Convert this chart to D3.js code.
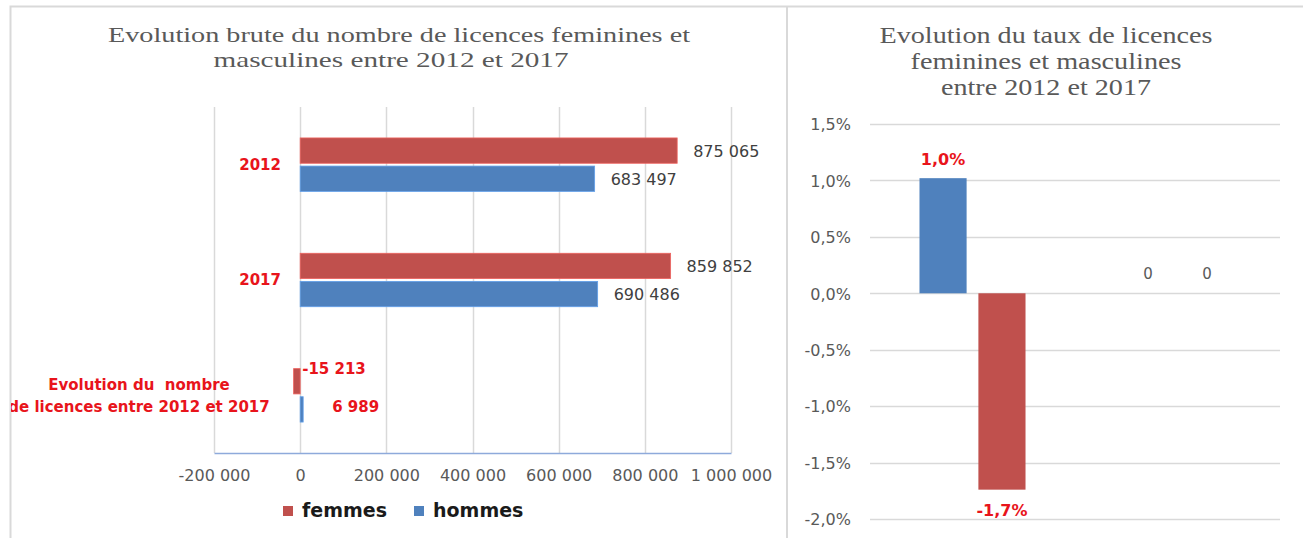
<!DOCTYPE html>
<html>
<head>
<meta charset="utf-8">
<script src="https://cdn.jsdelivr.net/npm/d3@7"></script>
<style>
  body { margin: 0; background: #fff; }
  svg { display: block; }
  text { font-family: "DejaVu Sans", sans-serif; }
  .title { font-family: "Liberation Serif", serif; fill: #595959; }
</style>
</head>
<body>
<script>
var categories = ["2012", "2017", "Evolution du  nombre|de licences entre 2012 et 2017"];
var series = ["femmes", "hommes"];
var femmes = [875065, 859852, -15213];
var hommes = [683497, 690486, 6989];
var xTicks = [-200000, 0, 200000, 400000, 600000, 800000, 1000000];

var rateCategories = ["evolution", "vide"];
var rateSeries = ["hommes", "femmes"];
var rateHommes = [0.0102, 0];
var rateFemmes = [-0.0174, 0];
var rateTicks = [0.015, 0.01, 0.005, 0, -0.005, -0.01, -0.015, -0.02];

var colors = { femmes: "#c0504d", hommes: "#4f81bd" };
var red = "#e8141b";

var fr = d3.formatLocale({ decimal: ",", thousands: " ", grouping: [3], currency: ["", " €"], minus: "-" });
var fmtNum = fr.format(",d");
var fmtPct = fr.format(".1%");

var svg = d3.select("body").append("svg")
  .attr("width", 1303)
  .attr("height", 538);

// panel frames
svg.append("path")
  .attr("d", "M10.5,538V6.5H1303M787,6.5V538")
  .attr("fill", "none")
  .attr("stroke", "#d9d9d9")
  .attr("stroke-width", 2);

// ---------- left chart ----------
var left = svg.append("g");

left.append("text").attr("class", "title")
  .attr("x", 399).attr("y", 42)
  .attr("text-anchor", "middle")
  .attr("font-size", 21)
  .attr("textLength", 582).attr("lengthAdjust", "spacingAndGlyphs")
  .text("Evolution brute du nombre de licences feminines et");
left.append("text").attr("class", "title")
  .attr("x", 391).attr("y", 67)
  .attr("text-anchor", "middle")
  .attr("font-size", 21)
  .attr("textLength", 355).attr("lengthAdjust", "spacingAndGlyphs")
  .text("masculines entre 2012 et 2017");

var x = d3.scaleLinear().domain([-200000, 1000000]).range([214, 731]);
var y = d3.scaleBand().domain(categories).range([107, 453]);
var ySub = d3.scaleBand().domain(series).range([0, y.bandwidth()])
  .paddingInner(0.1).paddingOuter(1.1);

left.append("g")
  .selectAll("line")
  .data(xTicks)
  .join("line")
  .attr("x1", d => Math.round(x(d)) + 0.5)
  .attr("x2", d => Math.round(x(d)) + 0.5)
  .attr("y1", 107).attr("y2", 453)
  .attr("stroke", "#d9d9d9")
  .attr("stroke-width", 1.5);

var xAxis = left.append("g")
  .attr("transform", "translate(0,453)")
  .call(d3.axisBottom(x).tickValues(xTicks).tickFormat(fmtNum).tickSize(0).tickPadding(17));
xAxis.select(".domain").attr("stroke", "#8eaadb").attr("stroke-width", 1.5);
xAxis.selectAll("text")
  .attr("font-size", 16)
  .attr("fill", "#595959")
  .attr("font-family", "DejaVu Sans");

var rows = categories.map(function(c, i) {
  return { cat: c, i: i, values: [
    { key: "femmes", value: femmes[i] },
    { key: "hommes", value: hommes[i] }
  ] };
});

var groups = left.selectAll(".row")
  .data(rows)
  .join("g")
  .attr("class", "row")
  .attr("transform", d => "translate(0," + y(d.cat) + ")");

groups.selectAll("rect")
  .data(d => d.values)
  .join("rect")
  .attr("x", d => x(Math.min(0, d.value)))
  .attr("y", d => ySub(d.key))
  .attr("width", d => Math.abs(x(d.value) - x(0)))
  .attr("height", ySub.bandwidth())
  .attr("fill", d => colors[d.key])
  .attr("stroke", d => d3.color(colors[d.key]).brighter(0.6))
  .attr("stroke-width", 0.8);

// value labels
groups.each(function(row) {
  var g = d3.select(this);
  row.values.forEach(function(v) {
    var yy = ySub(v.key) + ySub.bandwidth() / 2;
    var t = g.append("text").text(fmtNum(v.value));
    if (row.i < 2) {
      t.attr("x", x(v.value) + 16).attr("y", yy + 6)
        .attr("font-size", 16).attr("fill", "#404040");
    } else if (v.key === "femmes") {
      t.attr("x", x(0) + 2).attr("y", yy - 7)
        .attr("font-size", 15).attr("font-weight", "bold").attr("fill", red);
    } else {
      t.attr("x", x(0) + 32).attr("y", yy + 3)
        .attr("font-size", 15).attr("font-weight", "bold").attr("fill", red);
    }
  });
});

// category labels
svg.append("clipPath").attr("id", "leftclip")
  .append("rect").attr("x", 11).attr("y", 0).attr("width", 776).attr("height", 538);

var catLabels = left.append("g").attr("clip-path", "url(#leftclip)");
rows.forEach(function(row) {
  var cy = y(row.cat) + y.bandwidth() / 2;
  var lines = row.cat.split("|");
  if (lines.length === 1) {
    catLabels.append("text")
      .attr("x", 281).attr("y", cy + 5)
      .attr("text-anchor", "end")
      .attr("font-size", 15).attr("font-weight", "bold").attr("fill", red)
      .text(lines[0]);
  } else {
    lines.forEach(function(l, k) {
      catLabels.append("text")
        .attr("x", 139).attr("y", cy - 5 + k * 22)
        .attr("text-anchor", "middle")
        .attr("font-size", 15).attr("font-weight", "bold").attr("fill", red)
        .style("white-space", "pre")
        .text(l);
    });
  }
});

// legend
var legend = left.append("g");
var legendX = [283, 414];
series.forEach(function(s, i) {
  legend.append("rect")
    .attr("x", legendX[i]).attr("y", 506)
    .attr("width", 10).attr("height", 10)
    .attr("fill", colors[s]);
  legend.append("text")
    .attr("x", legendX[i] + 19).attr("y", 517)
    .attr("font-size", 19).attr("font-weight", "bold").attr("fill", "#1a1a1a")
    .text(s);
});

// ---------- right chart ----------
var right = svg.append("g");
var rTitle = [
  ["Evolution du taux de licences", 43, 333],
  ["feminines et masculines", 69, 271],
  ["entre 2012 et 2017", 95, 210]
];
rTitle.forEach(function(t) {
  right.append("text").attr("class", "title")
    .attr("x", 1046).attr("y", t[1])
    .attr("text-anchor", "middle")
    .attr("font-size", 24)
    .attr("textLength", t[2]).attr("lengthAdjust", "spacingAndGlyphs")
    .text(t[0]);
});

var ry = d3.scaleLinear().domain([-0.02, 0.015]).range([519, 124]);
var rx = d3.scaleBand().domain(rateCategories).range([870, 1280]);
var rxSub = d3.scaleBand().domain(rateSeries).range([0, rx.bandwidth()])
  .paddingInner(0.2).paddingOuter(0.84);

right.append("g")
  .selectAll("line")
  .data(rateTicks)
  .join("line")
  .attr("x1", 870).attr("x2", 1280)
  .attr("y1", d => Math.round(ry(d)) + 0.5)
  .attr("y2", d => Math.round(ry(d)) + 0.5)
  .attr("stroke", "#d9d9d9")
  .attr("stroke-width", 1.5);

var yAxis = right.append("g")
  .attr("transform", "translate(851,0)")
  .call(d3.axisLeft(ry).tickValues(rateTicks).tickFormat(fmtPct).tickSize(0).tickPadding(0));
yAxis.select(".domain").remove();
yAxis.selectAll("text")
  .attr("font-size", 16)
  .attr("fill", "#595959")
  .attr("font-family", "DejaVu Sans")
  .attr("dy", "0.36em");

var rRows = rateCategories.map(function(c, i) {
  return { cat: c, values: [
    { key: "hommes", value: rateHommes[i] },
    { key: "femmes", value: rateFemmes[i] }
  ] };
});

var rGroups = right.selectAll(".rrow")
  .data(rRows)
  .join("g")
  .attr("class", "rrow")
  .attr("transform", d => "translate(" + rx(d.cat) + ",0)");

rGroups.selectAll("rect")
  .data(d => d.values.filter(v => v.value !== 0))
  .join("rect")
  .attr("x", d => rxSub(d.key))
  .attr("y", d => ry(Math.max(0, d.value)))
  .attr("width", rxSub.bandwidth())
  .attr("height", d => Math.abs(ry(d.value) - ry(0)))
  .attr("fill", d => colors[d.key]);

rGroups.selectAll("text")
  .data(d => d.values)
  .join("text")
  .attr("x", d => rxSub(d.key) + rxSub.bandwidth() / 2)
  .attr("y", d => d.value > 0 ? ry(d.value) - 13 : d.value < 0 ? ry(d.value) + 26 : ry(0) - 14)
  .attr("text-anchor", "middle")
  .attr("font-size", d => d.value !== 0 ? 16 : 15)
  .attr("font-weight", d => d.value !== 0 ? "bold" : "normal")
  .attr("fill", d => d.value !== 0 ? red : "#595959")
  .text(d => d.value !== 0 ? fmtPct(d.value) : "0");
</script>
</body>
</html>
